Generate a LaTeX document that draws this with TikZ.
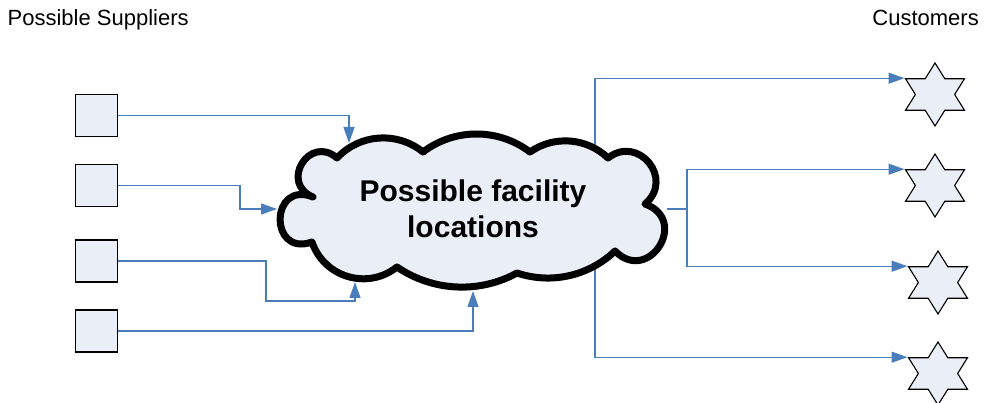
\documentclass[tikz,border=0pt]{standalone}
\usepackage{fontspec}
\setmainfont{Liberation Sans}
\usetikzlibrary{shapes.geometric,arrows.meta,backgrounds,calc}
\definecolor{flowblue}{HTML}{4A7EBB}
\definecolor{paleblue}{HTML}{E9EEF7}
% one outward puff of the cloud from #1 to #2: turn angle #3, handle length #4
\newcommand{\cloudpuff}[4]{.. controls ($(#1)!#4pt!#3:(#2)$) and ($(#2)!#4pt!-#3:(#1)$) .. (#2)}
\begin{document}
\begin{tikzpicture}[x=1pt,y=-1pt,
  supplier/.style={rectangle, draw=black, line width=1.2pt, fill=paleblue,
    minimum size=42pt, inner sep=0pt},
  customer/.style={star, star points=6, star point ratio=1.732, draw=black,
    line width=1.1pt, fill=paleblue, minimum size=63pt, inner sep=0pt},
  cloudfill/.style={fill=paleblue},
  cloudline/.style={draw=black, line width=7pt, line join=round},
  sitetext/.style={inner sep=0pt, align=center,
    font=\bfseries\fontsize{30}{36}\selectfont},
  flow/.style={draw=flowblue, line width=1.3pt, -{Triangle[length=16pt,width=11pt]}},
  link/.style={draw=flowblue, line width=1.3pt},
  heading/.style={font=\fontsize{22}{26}\selectfont, inner sep=0pt}]

\useasboundingbox (0,0) rectangle (986,403);

% headings
\node[heading, anchor=base west] (hs) at (7.5,25.5) {Possible Suppliers};
\node[heading, anchor=base east] (hc) at (979,25.5) {Customers};

% suppliers
\node[supplier] (s1) at (96.5,115.5) {};
\node[supplier] (s2) at (96.5,185.5) {};
\node[supplier] (s3) at (96.5,261) {};
\node[supplier] (s4) at (96.5,331) {};

% facility cloud: notches between the puffs, then one arc per puff
\coordinate (pA) at (337,158);
\coordinate (pB) at (423,152);
\coordinate (pF) at (530,152);
\coordinate (pG) at (608,158);
\coordinate (pH) at (645,204);
\coordinate (pI) at (615,251);
\coordinate (pK) at (517,273);
\coordinate (pE) at (397,267);
\coordinate (pD) at (312,242);
\coordinate (pC) at (313,197);
\def\cloudoutline{(pA)
  \cloudpuff{pA}{pB}{43}{33.2}
  \cloudpuff{pB}{pF}{37.2}{39.7}
  \cloudpuff{pF}{pG}{39.4}{29.4}
  \cloudpuff{pG}{pH}{89}{38.7}
  \cloudpuff{pH}{pI}{102.9}{47.7}
  \cloudpuff{pI}{pK}{31.2}{36.1}
  \cloudpuff{pK}{pE}{31.6}{43.2}
  \cloudpuff{pE}{pD}{54.9}{37.5}
  \cloudpuff{pD}{pC}{110.6}{46.2}
  \cloudpuff{pC}{pA}{99.4}{36.5} -- cycle}
\fill[cloudfill] \cloudoutline;
\draw[cloudline] \cloudoutline;
\node[sitetext] (fac) at (473,209) {Possible facility\\locations};

% customers (slightly widened six-pointed stars)
\begin{scope}[shift={(935,94.5)},xscale=1.08]
  \node[customer, transform shape] (k1) at (0,0) {};
\end{scope}
\begin{scope}[shift={(935,185.5)},xscale=1.08]
  \node[customer, transform shape] (k2) at (0,0) {};
\end{scope}
\begin{scope}[shift={(938,282.5)},xscale=1.08]
  \node[customer, transform shape] (k3) at (0,0) {};
\end{scope}
\begin{scope}[shift={(938,373.5)},xscale=1.08]
  \node[customer, transform shape] (k4) at (0,0) {};
\end{scope}

% entry and exit points on the cloud
\coordinate (c1) at (349,143);
\coordinate (c2) at (277,209);
\coordinate (c3) at (355,282);
\coordinate (c4) at (473,291);
\coordinate (o1) at (595,165);
\coordinate (o2) at (667,209);
\coordinate (o3) at (595,255);
\coordinate (fork) at (687,209);

% supplier flows into the cloud
\draw[flow] (s1.east) -| (c1);
\draw[flow] (s2.east) -- ++(122,0) |- (c2);
\draw[flow] (s3.east) -| ++(148,40) -| (c3);
\draw[flow] (s4.east) -| (c4);

% flows out to customers
\begin{scope}[on background layer]
  \draw[flow] (o1) |- (k1.outer point 2);
  \draw[flow] (o3) |- (k4.outer point 2);
\end{scope}
\draw[link] (o2) -- (fork);
\draw[flow] (fork) |- (k2.outer point 2);
\draw[flow] (fork) |- (k3.outer point 2);
\end{tikzpicture}
\end{document}
